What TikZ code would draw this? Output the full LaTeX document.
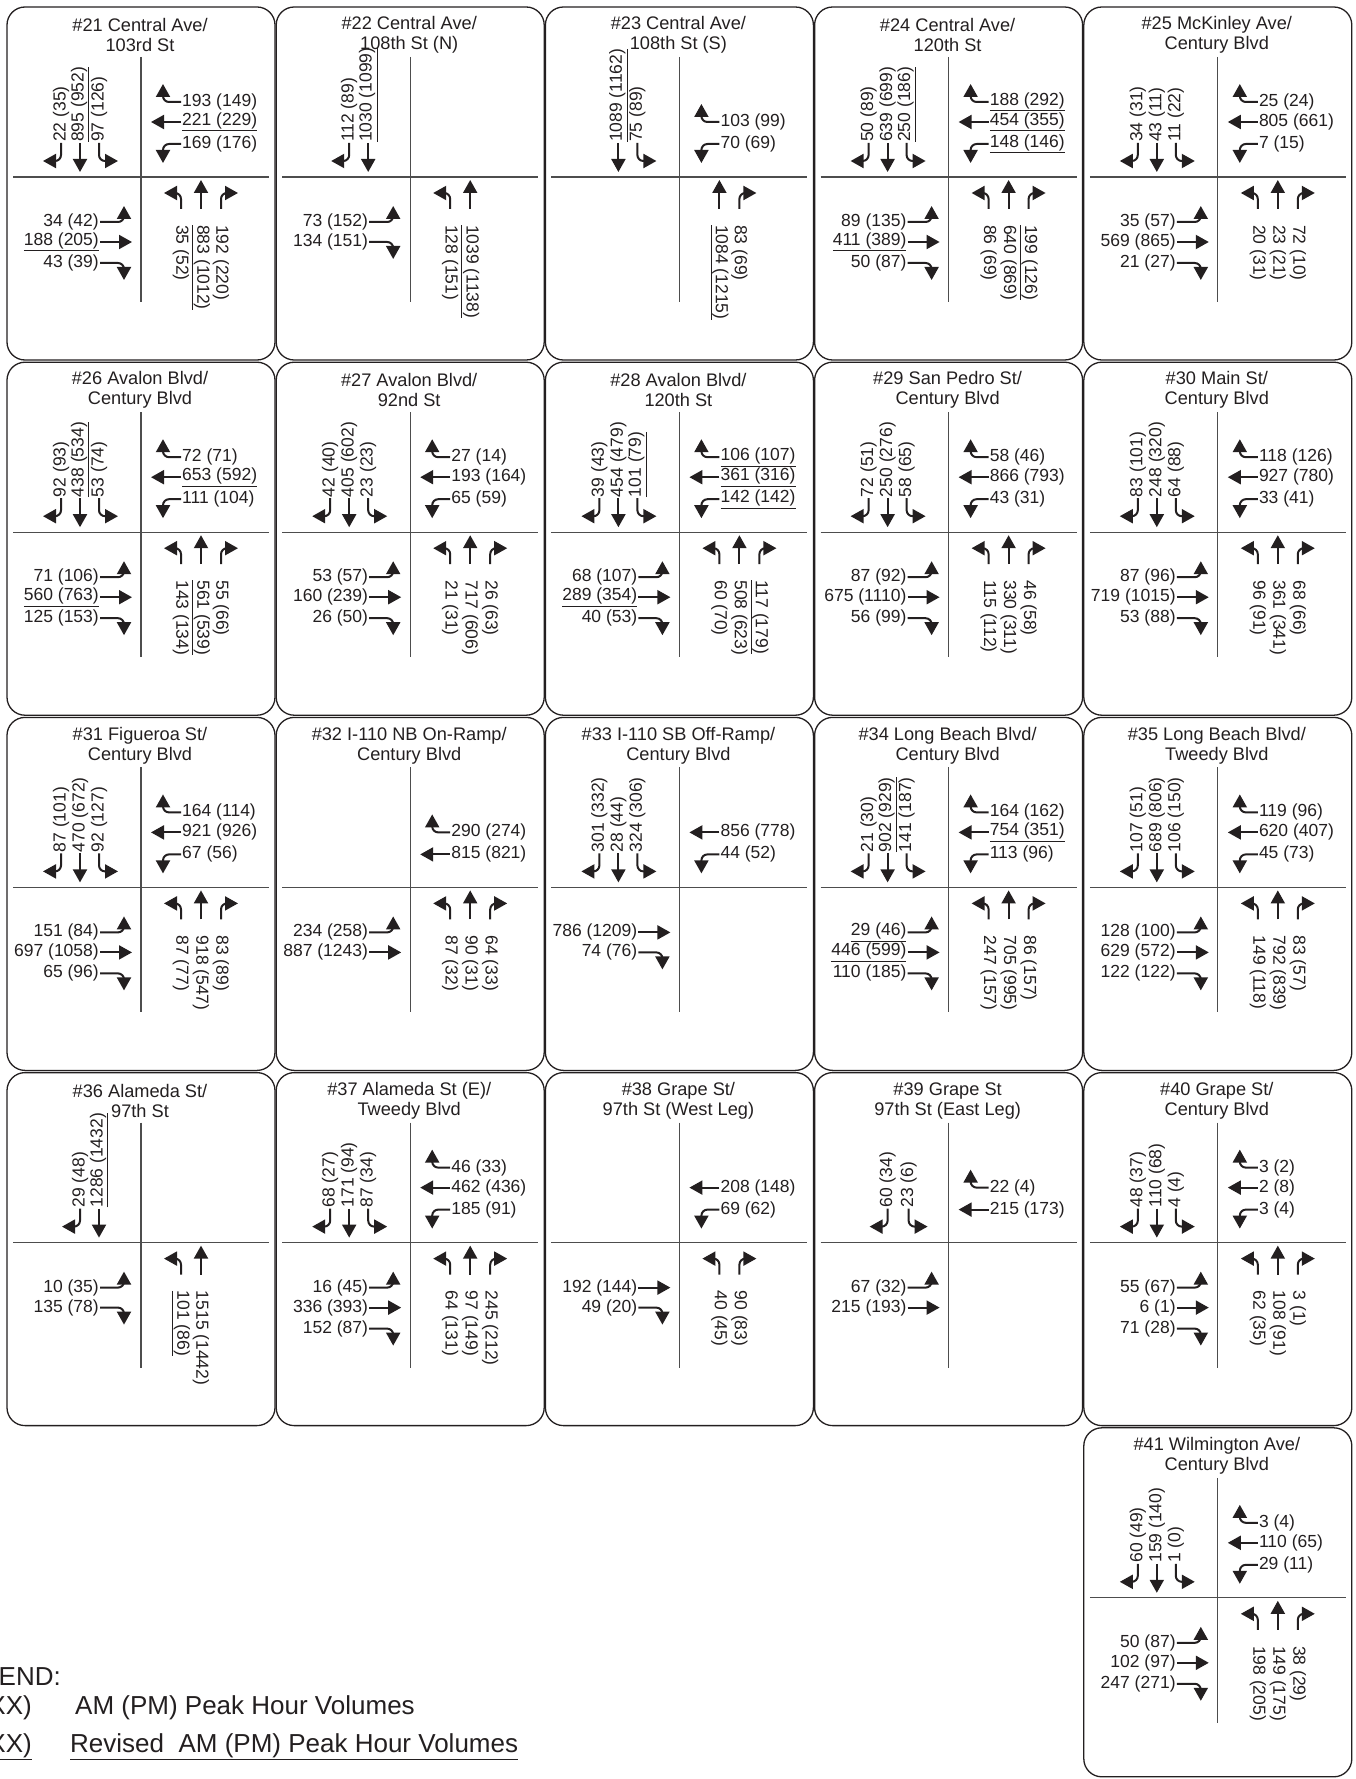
\documentclass[tikz,border=0pt]{standalone}
\usepackage{fontspec}
\setmainfont{Liberation Sans}
\usetikzlibrary{arrows.meta}

\definecolor{ink}{HTML}{231F20}
\definecolor{rulegray}{HTML}{4D4D4D}

% one intersection: frame, cross lines and title
\newcommand{\intbox}[2][353]{%
  \draw[pbox] (0,0) rectangle (268,#1);
  \draw[divider] (134,50) -- (134,295);
  \draw[divider] (6,170) -- (262,170);
  \node[ttl] (p\pid ttl) at (133,28) {#2};}

% southbound
\newcommand{\sbL}[2][54]{\node[vlab,anchor=west] (p\pid sbL) at (#1,136) {#2};
  \draw[mv] (p\pid sbL.west) |- ++(-18,18);}
\newcommand{\sbT}[2][73]{\node[vlab,anchor=west] (p\pid sbT) at (#1,136) {#2};
  \draw[mv] (p\pid sbT.west) -- ++(0,29);}
\newcommand{\sbR}[2][92]{\node[vlab,anchor=west] (p\pid sbR) at (#1,136) {#2};
  \draw[mv] (p\pid sbR.west) |- ++(19,18);}
% westbound
\newcommand{\wbR}[2][95]{\node[lab,anchor=west] (p\pid wbR) at (174,#1) {#2};
  \draw[mv] (p\pid wbR.west) -| ++(-18,-18);}
\newcommand{\wbT}[2][115]{\node[lab,anchor=west] (p\pid wbT) at (174,#1) {#2};
  \draw[mv] (p\pid wbT.west) -- ++(-30,0);}
\newcommand{\wbL}[2][137]{\node[lab,anchor=west] (p\pid wbL) at (174,#1) {#2};
  \draw[mv] (p\pid wbL.west) -| ++(-18,19);}
% eastbound
\newcommand{\ebL}[2][215]{\node[lab,anchor=east] (p\pid ebL) at (93,#1) {#2};
  \draw[mv] (p\pid ebL.east) -| ++(24,-16);}
\newcommand{\ebT}[2][235]{\node[lab,anchor=east] (p\pid ebT) at (93,#1) {#2};
  \draw[mv] (p\pid ebT.east) -- ++(32,0);}
\newcommand{\ebR}[2][256]{\node[lab,anchor=east] (p\pid ebR) at (93,#1) {#2};
  \draw[mv] (p\pid ebR.east) -| ++(24,17);}
% northbound
\newcommand{\nbL}[2][174]{\node[nlab,anchor=west] (p\pid nbL) at (#1,217) {#2};
  \draw[mv] ([yshift=15pt]p\pid nbL.west) |- ++(-17,-16);}
\newcommand{\nbT}[2][194]{\node[nlab,anchor=west] (p\pid nbT) at (#1,217) {#2};
  \draw[mv] ([yshift=15pt]p\pid nbT.west) -- ++(0,-29);}
\newcommand{\nbR}[2][214]{\node[nlab,anchor=west] (p\pid nbR) at (#1,217) {#2};
  \draw[mv] ([yshift=15pt]p\pid nbR.west) |- ++(17,-16);}

\begin{document}
\begin{tikzpicture}[
    x=1pt, y=-1pt,
    lab/.style={text=ink, inner sep=1pt, font=\fontsize{17.5}{19}\selectfont},
    vlab/.style={lab, rotate=90},
    nlab/.style={lab, rotate=-90},
    ttl/.style={text=ink, align=center, inner sep=0pt, font=\fontsize{18.2}{20}\selectfont},
    pbox/.style={draw=ink, line width=1.3pt, rounded corners=18pt},
    divider/.style={draw=rulegray, line width=1.2pt},
    mv/.style={draw=ink, line width=2pt, rounded corners=6pt, -{Triangle[length=13pt,width=14pt]}},
    leg/.style={text=ink, inner sep=0pt, font=\fontsize{26}{28}\selectfont}
]
\useasboundingbox (0,0) rectangle (1355,1779);
\clip (0,0) rectangle (1355,1779);

% row 1
\begin{scope}[shift={(7,7)}]\def\pid{21}
  \intbox{\#21 Central Ave/\\103rd St}
  \sbL{22 (35)} \sbT{\underline{895 (952)}} \sbR{97 (126)}
  \wbR{193 (149)} \wbT{\underline{221 (229)}} \wbL{169 (176)}
  \ebL{34 (42)} \ebT{\underline{188 (205)}} \ebR{43 (39)}
  \nbL{35 (52)} \nbT{\underline{883 (1012)}} \nbR{192 (220)}
\end{scope}
\begin{scope}[shift={(276.2,7)}]\def\pid{22}
  \intbox{\#22 Central Ave/\\108th St (N)}
  \sbL[73]{112 (89)} \sbT[92]{\underline{1030 (1099)}}
  \ebL{73 (152)} \ebR[235]{134 (151)}
  \nbL{128 (151)} \nbT{\underline{1039 (1138)}}
\end{scope}
\begin{scope}[shift={(545.4,7)}]\def\pid{23}
  \intbox{\#23 Central Ave/\\108th St (S)}
  \sbT{\underline{1089 (1162)}} \sbR{75 (89)}
  \wbR[115]{103 (99)} \wbL{70 (69)}
  \nbT[174]{\underline{1084 (1215)}} \nbR[194]{83 (69)}
\end{scope}
\begin{scope}[shift={(814.6,7)}]\def\pid{24}
  \intbox{\#24 Central Ave/\\120th St}
  \sbL{50 (89)} \sbT{639 (699)} \sbR{\underline{250 (186)}}
  \wbR{\underline{188 (292)}} \wbT{\underline{454 (355)}} \wbL{\underline{148 (146)}}
  \ebL{89 (135)} \ebT{\underline{411 (389)}} \ebR{50 (87)}
  \nbL{86 (69)} \nbT{640 (869)} \nbR{\underline{199 (126)}}
\end{scope}
\begin{scope}[shift={(1083.8,7)}]\def\pid{25}
  \intbox{\#25 McKinley Ave/\\Century Blvd}
  \sbL{34 (31)} \sbT{43 (11)} \sbR{11 (22)}
  \wbR{25 (24)} \wbT{805 (661)} \wbL{7 (15)}
  \ebL{35 (57)} \ebT{569 (865)} \ebR{21 (27)}
  \nbL{20 (31)} \nbT{23 (21)} \nbR{72 (10)}
\end{scope}

% row 2
\begin{scope}[shift={(7,362.2)}]\def\pid{26}
  \intbox{\#26 Avalon Blvd/\\Century Blvd}
  \sbL{92 (93)} \sbT{\underline{438 (534)}} \sbR{53 (74)}
  \wbR{72 (71)} \wbT{\underline{653 (592)}} \wbL{111 (104)}
  \ebL{71 (106)} \ebT{\underline{560 (763)}} \ebR{125 (153)}
  \nbL{143 (134)} \nbT{\underline{561 (539)}} \nbR{55 (66)}
\end{scope}
\begin{scope}[shift={(276.2,362.2)}]\def\pid{27}
  \intbox{\#27 Avalon Blvd/\\92nd St}
  \sbL{42 (40)} \sbT{405 (602)} \sbR{23 (23)}
  \wbR{27 (14)} \wbT{193 (164)} \wbL{65 (59)}
  \ebL{53 (57)} \ebT{160 (239)} \ebR{26 (50)}
  \nbL{21 (31)} \nbT{717 (606)} \nbR{26 (63)}
\end{scope}
\begin{scope}[shift={(545.4,362.2)}]\def\pid{28}
  \intbox{\#28 Avalon Blvd/\\120th St}
  \sbL{39 (43)} \sbT{454 (479)} \sbR{\underline{101 (79)}}
  \wbR{\underline{106 (107)}} \wbT{\underline{361 (316)}} \wbL{\underline{142 (142)}}
  \ebL{68 (107)} \ebT{\underline{289 (354)}} \ebR{40 (53)}
  \nbL{60 (70)} \nbT{508 (623)} \nbR{\underline{117 (179)}}
\end{scope}
\begin{scope}[shift={(814.6,362.2)}]\def\pid{29}
  \intbox{\#29 San Pedro St/\\Century Blvd}
  \sbL{72 (51)} \sbT{250 (276)} \sbR{58 (65)}
  \wbR{58 (46)} \wbT{866 (793)} \wbL{43 (31)}
  \ebL{87 (92)} \ebT{675 (1110)} \ebR{56 (99)}
  \nbL{115 (112)} \nbT{330 (311)} \nbR{46 (58)}
\end{scope}
\begin{scope}[shift={(1083.8,362.2)}]\def\pid{30}
  \intbox{\#30 Main St/\\Century Blvd}
  \sbL{83 (101)} \sbT{248 (320)} \sbR{64 (88)}
  \wbR{118 (126)} \wbT{927 (780)} \wbL{33 (41)}
  \ebL{87 (96)} \ebT{719 (1015)} \ebR{53 (88)}
  \nbL{96 (91)} \nbT{361 (341)} \nbR{68 (66)}
\end{scope}

% row 3
\begin{scope}[shift={(7,717.4)}]\def\pid{31}
  \intbox{\#31 Figueroa St/\\Century Blvd}
  \sbL{87 (101)} \sbT{470 (672)} \sbR{92 (127)}
  \wbR{164 (114)} \wbT{921 (926)} \wbL{67 (56)}
  \ebL{151 (84)} \ebT{697 (1058)} \ebR{65 (96)}
  \nbL{87 (77)} \nbT{918 (547)} \nbR{83 (89)}
\end{scope}
\begin{scope}[shift={(276.2,717.4)}]\def\pid{32}
  \intbox{\#32 I-110 NB On-Ramp/\\Century Blvd}
  \wbR[115]{290 (274)} \wbT[137]{815 (821)}
  \ebL{234 (258)} \ebT{887 (1243)}
  \nbL{87 (32)} \nbT{90 (31)} \nbR{64 (33)}
\end{scope}
\begin{scope}[shift={(545.4,717.4)}]\def\pid{33}
  \intbox{\#33 I-110 SB Off-Ramp/\\Century Blvd}
  \sbL{301 (332)} \sbT{28 (44)} \sbR{324 (306)}
  \wbT{856 (778)} \wbL{44 (52)}
  \ebT[215]{786 (1209)} \ebR[235]{74 (76)}
\end{scope}
\begin{scope}[shift={(814.6,717.4)}]\def\pid{34}
  \intbox{\#34 Long Beach Blvd/\\Century Blvd}
  \sbL{21 (30)} \sbT{\underline{902 (929)}} \sbR{141 (187)}
  \wbR{164 (162)} \wbT{\underline{754 (351)}} \wbL{113 (96)}
  \ebL{\underline{29 (46)}} \ebT{\underline{446 (599)}} \ebR{110 (185)}
  \nbL{247 (157)} \nbT{705 (995)} \nbR{86 (157)}
\end{scope}
\begin{scope}[shift={(1083.8,717.4)}]\def\pid{35}
  \intbox{\#35 Long Beach Blvd/\\Tweedy Blvd}
  \sbL{107 (51)} \sbT{689 (806)} \sbR{106 (150)}
  \wbR{119 (96)} \wbT{620 (407)} \wbL{45 (73)}
  \ebL{128 (100)} \ebT{629 (572)} \ebR{122 (122)}
  \nbL{149 (118)} \nbT{792 (839)} \nbR{83 (57)}
\end{scope}

% row 4
\begin{scope}[shift={(7,1072.6)}]\def\pid{36}
  \intbox{\#36 Alameda St/\\97th St}
  \sbL[73]{29 (48)} \sbT[92]{\underline{1286 (1432)}}
  \ebL{10 (35)} \ebR[235]{135 (78)}
  \nbL{\underline{101 (86)}} \nbT{1515 (1442)}
\end{scope}
\begin{scope}[shift={(276.2,1072.6)}]\def\pid{37}
  \intbox{\#37 Alameda St (E)/\\Tweedy Blvd}
  \sbL{68 (27)} \sbT{171 (94)} \sbR{87 (34)}
  \wbR{46 (33)} \wbT{462 (436)} \wbL{185 (91)}
  \ebL{16 (45)} \ebT{336 (393)} \ebR{152 (87)}
  \nbL{64 (131)} \nbT{97 (149)} \nbR{245 (212)}
\end{scope}
\begin{scope}[shift={(545.4,1072.6)}]\def\pid{38}
  \intbox{\#38 Grape St/\\97th St (West Leg)}
  \wbT{208 (148)} \wbL{69 (62)}
  \ebT[215]{192 (144)} \ebR[235]{49 (20)}
  \nbL{40 (45)} \nbR[194]{90 (83)}
\end{scope}
\begin{scope}[shift={(814.6,1072.6)}]\def\pid{39}
  \intbox{\#39 Grape St\\97th St (East Leg)}
  \sbL[73]{60 (34)} \sbR[94]{23 (6)}
  \wbR[115]{22 (4)} \wbT[137]{215 (173)}
  \ebL{67 (32)} \ebT{215 (193)}
\end{scope}
\begin{scope}[shift={(1083.8,1072.6)}]\def\pid{40}
  \intbox{\#40 Grape St/\\Century Blvd}
  \sbL{48 (37)} \sbT{110 (68)} \sbR{4 (4)}
  \wbR{3 (2)} \wbT{2 (8)} \wbL{3 (4)}
  \ebL{55 (67)} \ebT{6 (1)} \ebR{71 (28)}
  \nbL{62 (35)} \nbT{108 (91)} \nbR{3 (1)}
\end{scope}

% row 5
\begin{scope}[shift={(1083.8,1427.8)}]\def\pid{41}
  \intbox[349]{\#41 Wilmington Ave/\\Century Blvd}
  \sbL{60 (49)} \sbT{159 (140)} \sbR{1 (0)}
  \wbR{3 (4)} \wbT{110 (65)} \wbL{29 (11)}
  \ebL{50 (87)} \ebT{102 (97)} \ebR{247 (271)}
  \nbL{198 (205)} \nbT{149 (175)} \nbR{38 (29)}
\end{scope}

% legend
\node[leg, anchor=base east] (legT) at (61,1685) {LEGEND:};
\node[leg, anchor=base east] (legA) at (32,1714) {XX (XX)};
\node[leg, anchor=base west] (legAt) at (75,1714) {AM (PM) Peak Hour Volumes};
\node[leg, anchor=base east] (legB) at (32,1752) {\underline{XX (XX)}};
\node[leg, anchor=base west] (legBt) at (70,1752) {\underline{Revised\ \ AM (PM) Peak Hour Volumes}};
\end{tikzpicture}
\end{document}
